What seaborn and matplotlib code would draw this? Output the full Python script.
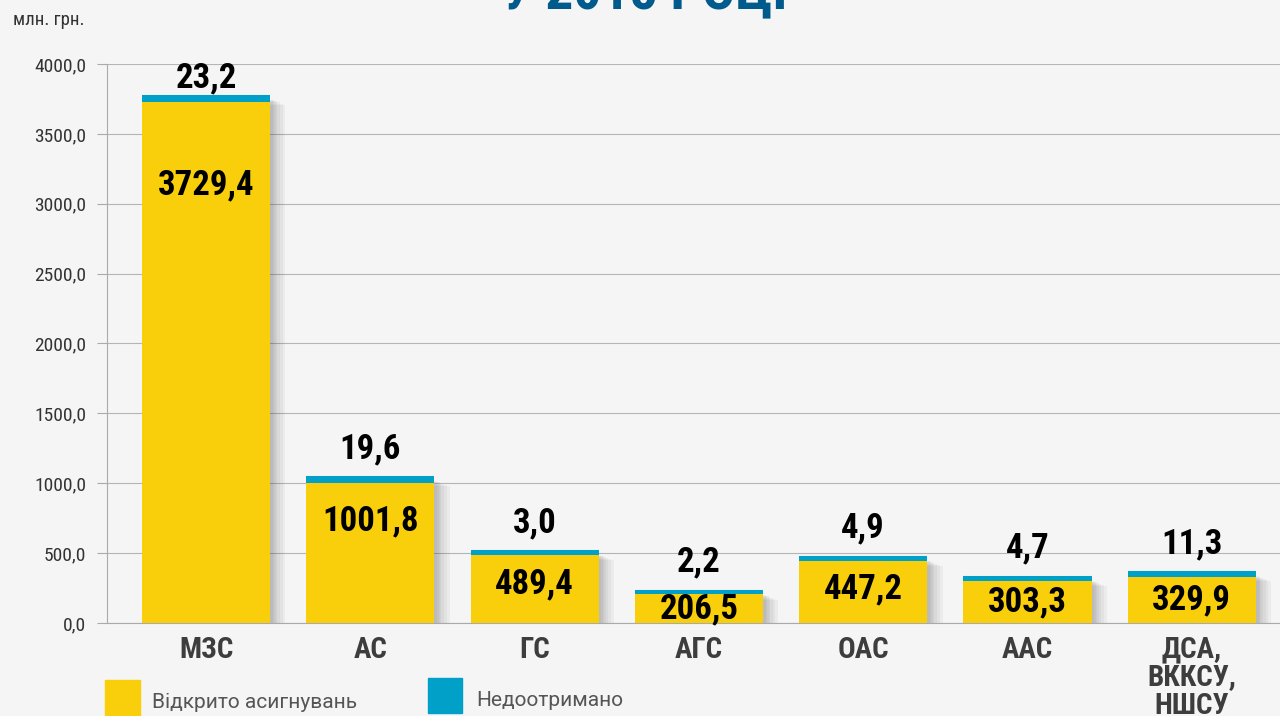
import matplotlib
matplotlib.use("Agg")
import matplotlib.pyplot as plt
import matplotlib.patheffects as pe
import seaborn as sns
import pandas as pd
import numpy as np

# data
categories = ["МЗС", "АС", "ГС", "АГС", "ОАС", "ААС", "ДСА,\nВККСУ,\nНШСУ"]
opened = [3729.4, 1001.8, 489.4, 206.5, 447.2, 303.3, 329.9]
not_received = [23.2, 19.6, 3.0, 2.2, 4.9, 4.7, 11.3]
yticks = [0, 500, 1000, 1500, 2000, 2500, 3000, 3500, 4000]

YELLOW = "#F8CF0A"
BLUE = "#00A0C8"
BG = "#F5F5F5"
TITLE_BLUE = "#005B8C"

sns.set_theme(style="white")
plt.rcParams['font.family'] = ['Roboto Condensed', 'Liberation Sans Narrow', 'Roboto', 'DejaVu Sans']

df = pd.DataFrame({"cat": categories, "opened": opened, "lost": not_received})
df["total"] = df["opened"] + df["lost"]

fig = plt.figure(figsize=(12.8, 7.16), dpi=100, facecolor=BG)
ax = fig.add_axes([107 / 1280, 1 - 623 / 716, 1 - 107 / 1280, (623 - 64) / 716])
ax.set_facecolor(BG)

# soft drop shadow made of several faint layers
shadow = [pe.SimplePatchShadow(offset=(k, -k * 0.4), shadow_rgbFace="#444444", alpha=0.05)
          for k in (11, 9, 7, 5, 4, 3, 2)] + [pe.Normal()]

sns.barplot(data=df, x="cat", y="total", color=BLUE, width=0.78, saturation=1,
            linewidth=0, ax=ax, zorder=2)
sns.barplot(data=df, x="cat", y="opened", color=YELLOW, width=0.78, saturation=1,
            linewidth=0, ax=ax, zorder=3)
for i, p in enumerate(ax.patches):
    if i < len(categories):
        p.set_path_effects(shadow)

x = np.arange(len(categories))
# blue cap drawn slightly thicker so that small values stay visible
ax.hlines(df["total"], x - 0.39, x + 0.39, color=BLUE, linewidth=5.8, zorder=2.5, capstyle="butt")

for xi, h, t, lost in zip(x, df["opened"], df["total"], df["lost"]):
    off = 3 if t > 3000 else 11
    ax.annotate(f"{lost:.1f}".replace(".", ","), (xi, t), xytext=(0, off), textcoords="offset points",
                ha="center", va="bottom", fontsize=25, fontweight="bold", color="black", zorder=5)
    ypos = max(0.88 * h - 150, 0.5 * h)
    ax.text(xi, ypos, f"{h:.1f}".replace(".", ","), ha="center", va="center",
            fontsize=25, fontweight="bold", color="black", zorder=5)

ax.set_ylim(0, 4000)
ax.set_xlim(-0.603, 6.537)
ax.set_yticks(yticks)
ax.set_yticklabels([f"{v:.1f}".replace(".", ",") for v in yticks], fontsize=14, color="#333333")
ax.set_xticks(x)
ax.set_xticklabels(categories, fontsize=21, fontweight="bold", color="#3d3d3d", linespacing=1.0)
ax.tick_params(axis="y", length=7, width=0.8, color="#aaaaaa", pad=8, left=True)
ax.tick_params(axis="x", length=0, pad=9)
ax.set_xlabel("")
ax.set_ylabel("")
ax.yaxis.grid(True, color="#b5b5b5", linewidth=0.8)
ax.set_axisbelow(True)
for s in ["top", "right"]:
    ax.spines[s].set_visible(False)
ax.spines["left"].set_color("#aaaaaa")
ax.spines["left"].set_linewidth(0.8)
ax.spines["bottom"].set_color("#aaaaaa")
ax.spines["bottom"].set_linewidth(0.8)

fig.text(13 / 1280, 1 - 20 / 716, "млн. грн.", fontsize=13.5, color="#333333", ha="left", va="center")
fig.text(645 / 1280, 1 - 9 / 716, "У 2015 РОЦІ", fontsize=40, fontweight="bold", color=TITLE_BLUE,
         ha="center", va="baseline")

# legend
fig.patches.append(plt.Rectangle((105 / 1280, 0), 35 / 1280, 36 / 716, transform=fig.transFigure,
                                 color=YELLOW, figure=fig))
fig.patches.append(plt.Rectangle((428 / 1280, 3 / 716), 34 / 1280, 35 / 716, transform=fig.transFigure,
                                 color=BLUE, figure=fig))
fig.text(152 / 1280, 1 - 703 / 716, "Відкрито асигнувань", fontsize=15, color="#555555",
         va="center", family=["Roboto", "DejaVu Sans"])
fig.text(476 / 1280, 1 - 701 / 716, "Недоотримано", fontsize=15, color="#555555",
         va="center", family=["Roboto", "DejaVu Sans"])

fig.savefig("out.png", dpi=100, facecolor=BG)
